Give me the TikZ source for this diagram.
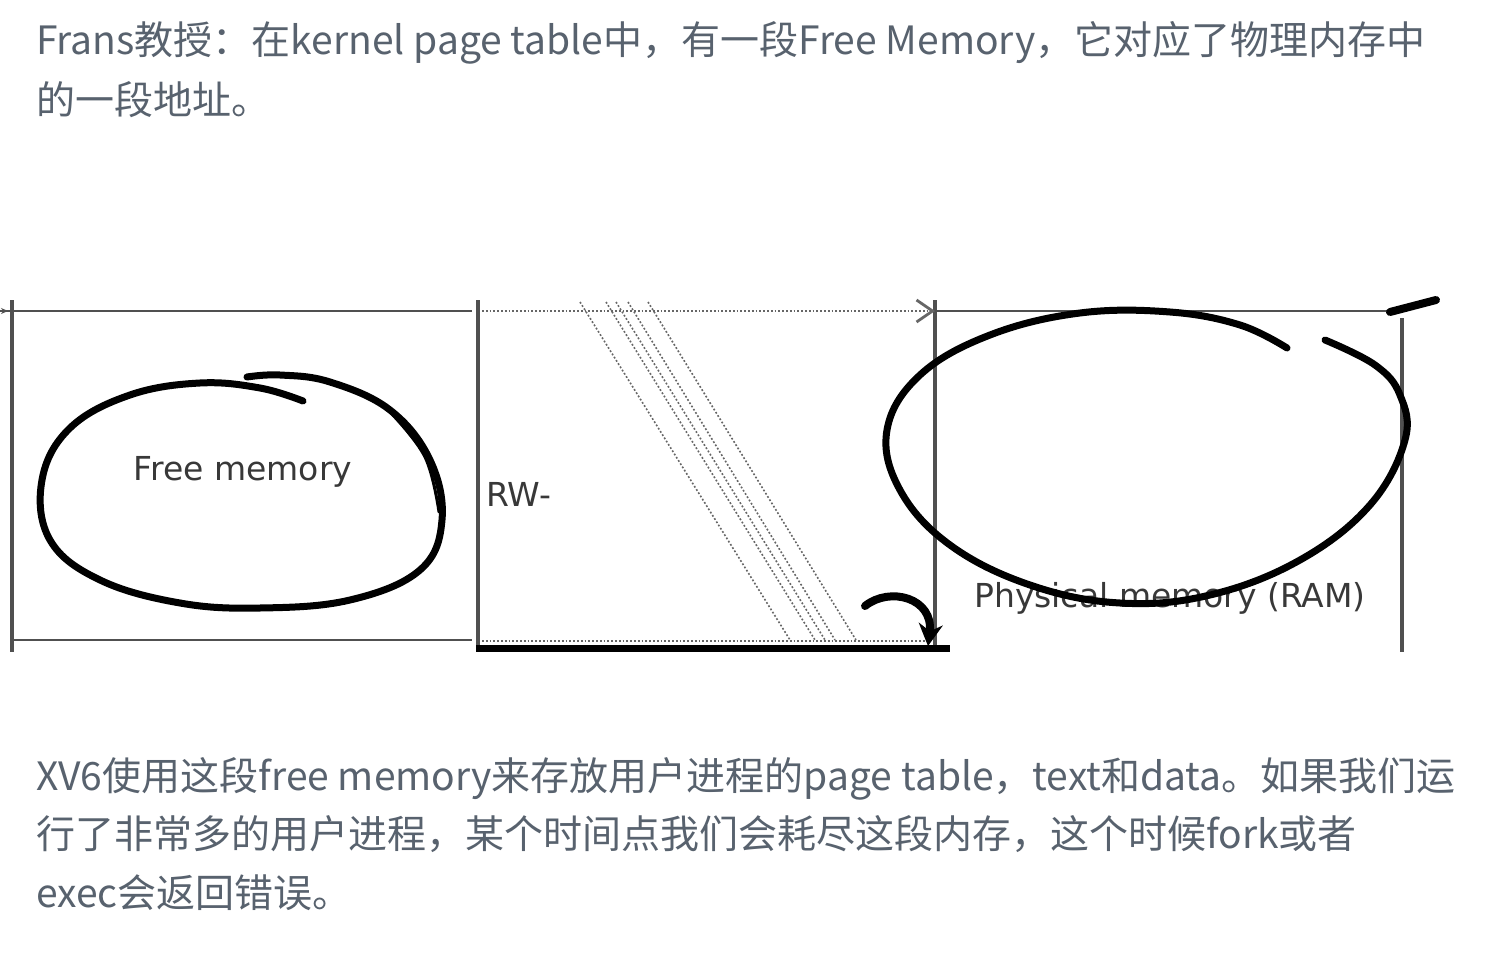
\documentclass[tikz,border=0pt]{standalone}
\usepackage{fontspec}
\setmainfont{Noto Sans CJK SC}
\newfontfamily\figfont{DejaVu Sans}
\usetikzlibrary{arrows.meta,calc}
\definecolor{txtgray}{RGB}{88,98,110}
\definecolor{linegray}{RGB}{80,80,80}

\begin{document}
\begin{tikzpicture}[x=1pt,y=-1pt,>=Stealth,
  para/.style={anchor=base west,inner sep=0pt,text=txtgray,font=\fontsize{39}{39}\selectfont},
  lbl/.style={inner sep=0pt,text=black!78,font=\figfont\fontsize{33}{33}\selectfont},
  frame/.style={linegray,line width=3.2pt},
  dots/.style={black!60,line width=1.8pt,dotted},
  pen/.style={black,line width=7pt,line cap=round,line join=round}]
  \useasboundingbox[fill=white] (0,0) rectangle (1508,955);

  % paragraph above the figure
  \node[para] (top1) at (36,55) {Frans教授：在kernel page table中，有一段Free Memory，它对应了物理内存中};
  \node[para] (top2) at (36,115) {的一段地址。};

  % columns of the kernel address space and RAM
  \foreach \x/\a/\b in {12/300/652,478/300/652,935/300/652,1402/318/652}
    \draw[frame] (\x,\a) -- (\x,\b);
  \draw[frame,line width=2.6pt] (0,311) -- (472,311);
  \draw[frame,line width=2.6pt] (12,640) -- (472,640);
  \draw[frame,line width=2.2pt] (935,311) -- (1402,311);
  \draw[black,line width=7pt] (476,648) -- (950,648);

  % dotted mapping lines
  \coordinate (ptop) at (935,311);
  \draw[dots,-{Straight Barb[length=16pt,width=22pt,line width=2.8pt]}] (482,311) -- (ptop);
  \draw[dots] (482,641) -- (930,641);
  \foreach \a/\b in {580/790,606/815,616/825,628/835,648/856}
    \draw[dots,line width=1.6pt] (\a,302) -- (\b,640);

  % labels
  \node[lbl] (free) at (243,472) {Free memory};
  \node[lbl,anchor=west] (rw) at (486,494) {RW-};
  \node[lbl] (phys) at (1170,598) {Physical memory (RAM)};

  % hand-drawn circles
  \draw[pen] plot[smooth,tension=0.65] coordinates {(303,401) (260,388) (200,383) (130,395) (70,428) (42,480) (50,540) (100,580) (180,603) (260,608) (350,600) (420,570) (442,520) (430,460) (390,410) (330,382) (280,375) (247,377)};
  \draw[pen,line width=3pt] plot[smooth,tension=0.65] coordinates {(390,412) (425,457) (439,512)};
  \draw[pen] plot[smooth,tension=0.65] coordinates {(1287,348) (1240,325) (1170,312) (1080,313) (990,335) (920,375) (887,430) (900,490) (950,545) (1030,585) (1120,603) (1210,595) (1300,560) (1370,505) (1405,440) (1400,395) (1375,365) (1325,340)};

  % strokes
  \coordinate (hookS) at (865,606);
  \coordinate (hookE) at (928,646);
  \draw[pen,line width=8pt,-{Stealth[length=22pt,width=24pt]}] (hookS) .. controls (890,586) and (934,598) .. (hookE);
  \coordinate (tickA) at (1390,312);
  \coordinate (tickB) at (1436,300);
  \draw[pen,line width=8pt] (tickA) -- (tickB);
  \draw[frame,line width=2pt,-{Stealth[length=7pt,width=6pt]}] (-4,311) -- (8,311);

  % paragraph below the figure
  \node[para] (bot1) at (36,790) {XV6使用这段free memory来存放用户进程的page table，text和data。如果我们运};
  \node[para] (bot2) at (36,848) {行了非常多的用户进程，某个时间点我们会耗尽这段内存，这个时候fork或者};
  \node[para] (bot3) at (36,907) {exec会返回错误。};
\end{tikzpicture}
\end{document}
